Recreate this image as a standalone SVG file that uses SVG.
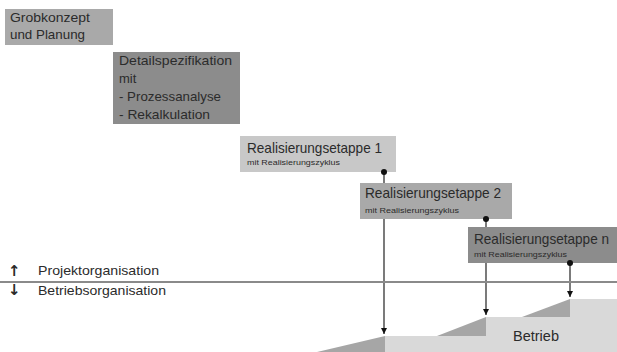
<svg xmlns="http://www.w3.org/2000/svg" width="617" height="352" viewBox="0 0 617 352">
<defs>
<style>
text{font-family:"Liberation Sans",Arial,sans-serif;fill:#2b2b2b}
.t{font-size:13px}
.h{font-size:14.5px}
.s{font-size:6.5px}
.c{stroke:#333;stroke-width:1.3;fill:none}
.d{fill:#111}
.a{font-family:"DejaVu Sans",sans-serif;font-size:15px;font-weight:bold}
</style>
<marker id="ah" viewBox="0 0 10 10" refX="10" refY="5" markerWidth="5" markerHeight="5" orient="auto">
<path d="M0,0 L10,5 L0,10 Z" fill="#111"/>
</marker>
</defs>
<rect width="617" height="352" fill="#fff"/>
<g id="betrieb">
<polygon points="385,352 385,336 486,336 486,317 570,317 570,299 617,299 617,352" fill="#d9d9d9"/>
<polygon points="317,352 385,336 385,352" fill="#a6a6a6"/>
<polygon points="437,336 486,317 486,336" fill="#a6a6a6"/>
<polygon points="522,317 570,299 570,317" fill="#a6a6a6"/>
<text x="513" y="341" font-size="14.5px">Betrieb</text>
</g>
<g id="connectors">
<line class="c" x1="384" y1="172" x2="384" y2="334" marker-end="url(#ah)"/>
<line class="c" x1="486" y1="219" x2="486" y2="315" marker-end="url(#ah)"/>
<line class="c" x1="570" y1="263" x2="570" y2="297" marker-end="url(#ah)"/>
</g>
<g id="grobkonzept">
<rect x="5" y="9" width="108" height="36" fill="#a9a9a9"/>
<text class="t" x="10" y="22" textLength="80" lengthAdjust="spacingAndGlyphs">Grobkonzept</text>
<text class="t" x="10" y="39" textLength="75" lengthAdjust="spacingAndGlyphs">und Planung</text>
</g>
<g id="detailspezifikation">
<rect x="113" y="52" width="127" height="72" fill="#8c8c8c"/>
<text class="t" x="119" y="65" textLength="113" lengthAdjust="spacingAndGlyphs">Detailspezifikation</text>
<text class="t" x="119" y="83">mit</text>
<text class="t" x="119" y="101" textLength="102" lengthAdjust="spacingAndGlyphs">- Prozessanalyse</text>
<text class="t" x="119" y="119" textLength="91" lengthAdjust="spacingAndGlyphs">- Rekalkulation</text>
</g>
<g id="etappe1">
<rect x="240" y="136" width="156" height="36" fill="#c8c8c8"/>
<text class="h" x="247" y="153" textLength="135" lengthAdjust="spacingAndGlyphs">Realisierungsetappe 1</text>
<text class="s" x="247" y="165" textLength="93" lengthAdjust="spacingAndGlyphs">mit Realisierungszyklus</text>
<circle class="d" cx="384" cy="172" r="3"/>
</g>
<g id="etappe2">
<rect x="360" y="183" width="152" height="36" fill="#a9a9a9"/>
<text class="h" x="365" y="198" textLength="136" lengthAdjust="spacingAndGlyphs">Realisierungsetappe 2</text>
<text class="s" x="365" y="213" textLength="94" lengthAdjust="spacingAndGlyphs">mit Realisierungszyklus</text>
<circle class="d" cx="486" cy="219" r="3"/>
</g>
<g id="etappen">
<rect x="468" y="227" width="149" height="36" fill="#8c8c8c"/>
<text class="h" x="474" y="244" textLength="135" lengthAdjust="spacingAndGlyphs">Realisierungsetappe n</text>
<text class="s" x="474" y="257" textLength="93" lengthAdjust="spacingAndGlyphs">mit Realisierungszyklus</text>
<circle class="d" cx="570" cy="263" r="3"/>
</g>
<g id="trennung">
<line x1="0" y1="282" x2="617" y2="282" stroke="#8a8a8a" stroke-width="2"/>
<text class="a" x="8" y="276">↑</text>
<text class="a" x="8" y="295">↓</text>
<text class="t" x="38" y="275" textLength="121" lengthAdjust="spacingAndGlyphs">Projektorganisation</text>
<text class="t" x="38" y="295" textLength="128" lengthAdjust="spacingAndGlyphs">Betriebsorganisation</text>
</g>
</svg>
